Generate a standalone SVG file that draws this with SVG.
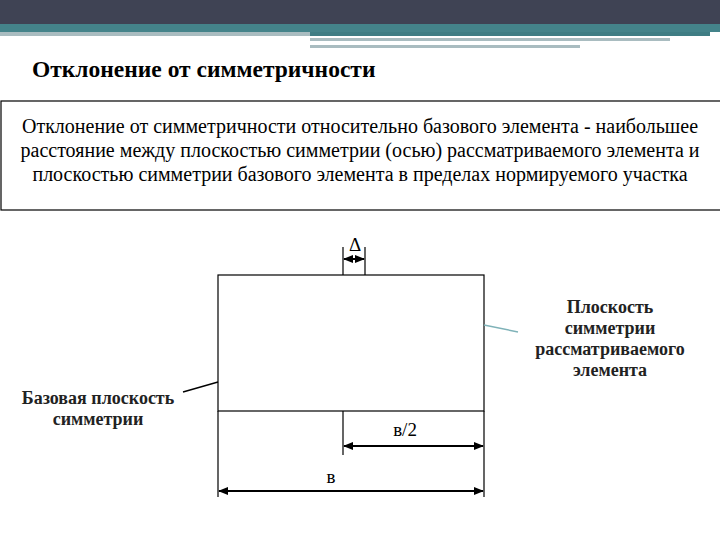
<svg xmlns="http://www.w3.org/2000/svg" width="720" height="540" viewBox="0 0 720 540">
<defs>
<marker id="a" viewBox="0 0 10 10" refX="9" refY="5" markerWidth="5" markerHeight="5" orient="auto-start-reverse"><path d="M0,1L10,5L0,9z" fill="#000"/></marker>
</defs>
<style>
text{font-family:"Liberation Serif","Times New Roman","DejaVu Serif",serif;fill:#000}
.b{font-weight:bold;font-size:18px;fill:#222}
.l{stroke:#000;stroke-width:1.2;fill:none}
.d{stroke:#000;stroke-width:2;marker-start:url(#a);marker-end:url(#a)}
</style>
<rect width="720" height="540" fill="#fff"/>
<rect width="720" height="24" fill="#3f4354"/>
<rect y="24" width="720" height="8" fill="#44838a"/>
<rect y="32" width="310" height="4" fill="#a9bcc0"/>
<rect x="310" y="32" width="400" height="4" fill="#3f7d84"/>
<rect x="310" y="38" width="360" height="3" fill="#a9bcc0"/>
<rect x="310" y="45" width="270" height="3" fill="#a9bcc0"/>
<text x="32" y="77" font-size="23.5" font-weight="bold" fill="#222">Отклонение от симметричности</text>
<g id="def">
<rect x="1" y="101" width="722" height="109" fill="none" stroke="#000" stroke-width="1.2"/>
<text font-size="20" text-anchor="middle"><tspan x="360" y="133">Отклонение от симметричности относительно базового элемента  - наибольшее</tspan><tspan x="360" y="157">расстояние между  плоскостью симметрии (осью) рассматриваемого элемента и</tspan><tspan x="360" y="181">плоскостью симметрии базового элемента  в пределах нормируемого участка</tspan></text>
</g>
<g id="part">
<rect x="218" y="275" width="266" height="136" class="l"/>
<path class="l" d="M218,411V497M484,411V497M343,411V455M343,247V275M365,247V275"/>
</g>
<g id="connectors">
<line class="d" x1="344" y1="259" x2="364" y2="259"/>
<line class="d" x1="344" y1="446" x2="483" y2="446"/>
<line class="d" x1="219" y1="491" x2="483" y2="491"/>
<line x1="183" y1="392" x2="218" y2="382" stroke="#000" stroke-width="1.5"/>
<line x1="484" y1="325" x2="518" y2="332" stroke="#7fb2b8" stroke-width="1.5"/>
</g>
<text x="355" y="251" font-size="19" text-anchor="middle">Δ</text>
<text x="405" y="436" font-size="19" text-anchor="middle">в/2</text>
<text x="331" y="483" font-size="19" text-anchor="middle">в</text>
<g id="lbl1"><text class="b" text-anchor="middle"><tspan x="610" y="313">Плоскость</tspan><tspan x="610" y="334">симметрии</tspan><tspan x="610" y="355">рассматриваемого</tspan><tspan x="610" y="376">элемента</tspan></text></g>
<g id="lbl2"><text class="b" text-anchor="middle"><tspan x="98" y="404">Базовая плоскость</tspan><tspan x="98" y="425">симметрии</tspan></text></g>
</svg>
